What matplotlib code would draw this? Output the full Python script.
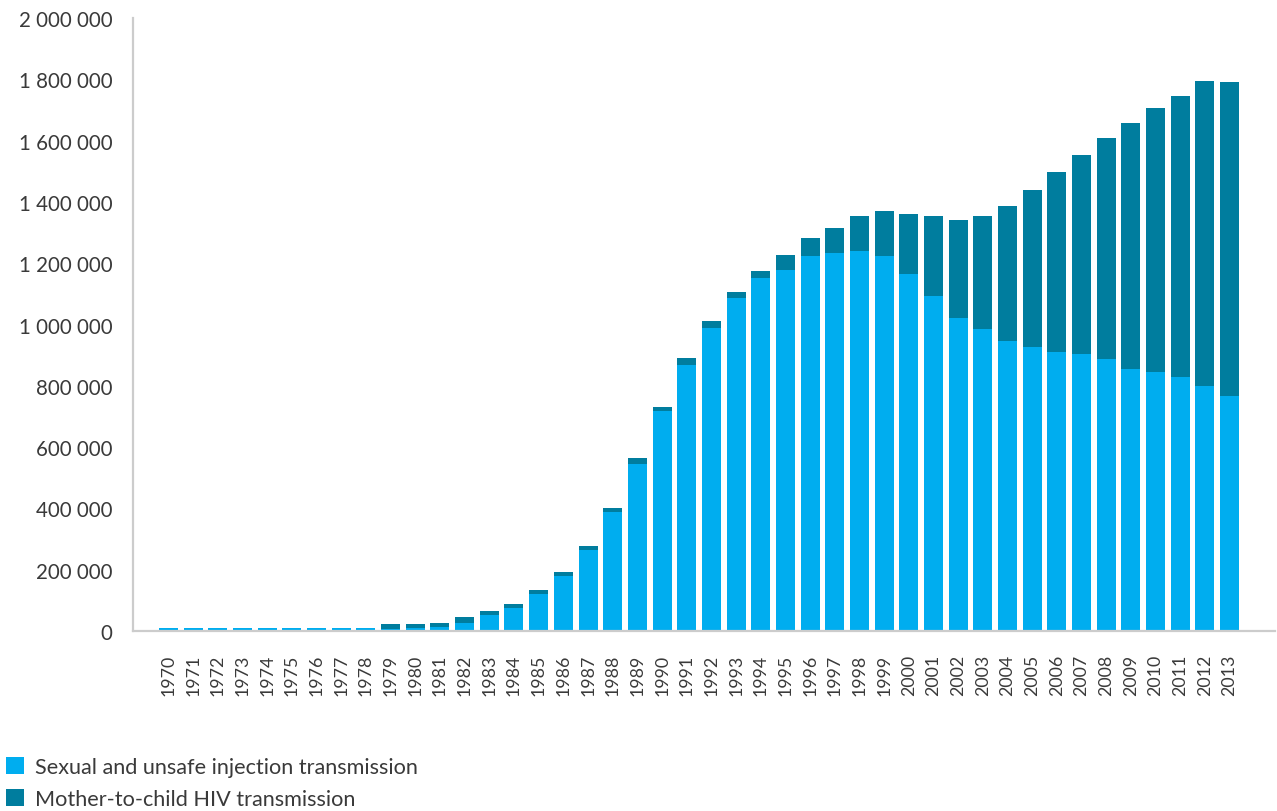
import numpy as np
import matplotlib
matplotlib.use('Agg')
import matplotlib.pyplot as plt
from matplotlib.ticker import FuncFormatter

years = [str(y) for y in range(1970, 2014)]

# people living with HIV
sexual = [9500, 9500, 9500, 9500, 9500, 9500, 9500, 9500, 9500,
          6500, 9800, 13000, 26000, 52000, 75000, 121000, 180000,
          264000, 388000, 545000, 718000, 868000, 989000, 1087000,
          1152000, 1178000, 1224000, 1233000, 1240000, 1224000,
          1165000, 1093000, 1021000, 985000, 946000, 927000, 910000,
          904000, 888000, 855000, 845000, 829000, 800000, 767000]
total = [9500, 9500, 9500, 9500, 9500, 9500, 9500, 9500, 9500,
         22800, 22800, 26000, 45700, 65000, 88000, 134000, 193000,
         277000, 401000, 564000, 731000, 891000, 1011000, 1106000,
         1175000, 1227000, 1282000, 1315000, 1354000, 1371000,
         1361000, 1354000, 1341000, 1354000, 1387000, 1439000, 1497000,
         1553000, 1609000, 1658000, 1707000, 1746000, 1795000, 1792000]
mtct = [t - s for t, s in zip(total, sexual)]

labels = ['Sexual and unsafe injection transmission',
          'Mother-to-child HIV transmission']
c_light = '#00adef'
c_dark = '#007d9e'

plt.rcParams['font.family'] = ['Lato', 'DejaVu Sans']

fig = plt.figure(figsize=(12.77, 8.12), dpi=100)
ax = fig.add_axes([133 / 1277, 180 / 812, 1142 / 1277, 613 / 812])

x = np.arange(len(years))
b1 = ax.bar(x, sexual, width=0.77, color=c_light, label=labels[0])
b2 = ax.bar(x, mtct, width=0.77, bottom=sexual, color=c_dark, label=labels[1])

ax.set_ylim(0, 2000000)
ax.set_yticks(np.arange(0, 2000001, 200000))
ax.yaxis.set_major_formatter(FuncFormatter(lambda v, p: f'{int(v):,}'.replace(',', ' ')))
ax.set_xlim(-1.44, len(years) - 1 + 1.84)
ax.set_xticks(x)
ax.set_xticklabels(years, rotation=90)

for s in ['top', 'right']:
    ax.spines[s].set_visible(False)
for s in ['left', 'bottom']:
    ax.spines[s].set_color('#cccccc')
    ax.spines[s].set_linewidth(1.6)

ax.tick_params(axis='y', length=0, pad=15, labelsize=14.8, labelcolor='#3a3a3a')
ax.tick_params(axis='x', length=0, pad=16.5, labelsize=12.8, labelcolor='#3a3a3a')

fig.legend(handles=[b1, b2], loc='upper left', bbox_to_anchor=(-0.004, 0.08),
           frameon=False, fontsize=15.6, handlelength=0.85, handleheight=0.85,
           handletextpad=0.5, labelspacing=0.55, borderpad=0, labelcolor='#3a3a3a')

plt.savefig('out.png', dpi=100)
